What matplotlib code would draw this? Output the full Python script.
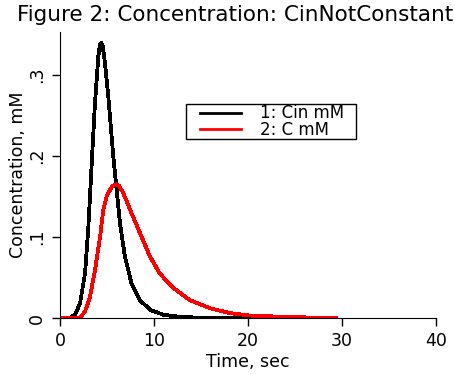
import numpy as np
import matplotlib
matplotlib.use("Agg")
import matplotlib.pyplot as plt
from matplotlib.lines import Line2D
from matplotlib.legend_handler import HandlerLine2D

# values
t_cin = [0, 1.0, 1.6, 2.13, 2.66, 3.0, 3.37, 3.72, 4.08, 4.25, 4.4, 4.55, 4.79, 5.14,
         5.67, 6.03, 6.38, 6.9, 7.6, 8.5, 9.6, 11.0, 13.0, 16.0, 20.0, 29.4]
cin = [0, 0, 0.004, 0.018, 0.055, 0.109, 0.19, 0.265, 0.323, 0.337, 0.340, 0.335,
       0.314, 0.273, 0.199, 0.158, 0.117, 0.076, 0.043, 0.022, 0.010, 0.004, 0.001,
       0.0003, 0, 0]

t_c = [0, 2.1, 2.66, 3.19, 3.72, 4.26, 4.6, 4.96, 5.5, 5.8, 6.03, 6.3, 6.74, 7.62,
       8.5, 9.57, 10.6, 12.06, 13.8, 15.96, 18.1, 20.2, 25.0, 29.4]
c = [0, 0, 0.008, 0.026, 0.059, 0.100, 0.133, 0.150, 0.162, 0.1645, 0.165, 0.163,
     0.154, 0.129, 0.105, 0.076, 0.055, 0.037, 0.022, 0.012, 0.006, 0.003, 0.001, 0]

xticks = [0, 10, 20, 30, 40]
yticks = [0, 0.1, 0.2, 0.3]
ytick_labels = ["0", ".1", ".2", ".3"]

fig = plt.figure(figsize=(4.55, 3.74), dpi=100)
ax = fig.add_axes([60 / 455, 1 - 318 / 374, 376 / 455, 286 / 374])

ax.plot(t_cin, cin, color="black", lw=2, label="1: Cin mM", antialiased=False)
ax.plot(t_c, c, color="red", lw=2, label="2: C mM", antialiased=False)

ax.set_xlim(0, 40)
ax.set_ylim(0, 0.353)
ax.spines["top"].set_visible(False)
ax.spines["right"].set_visible(False)
ax.set_xticks(xticks)
ax.set_yticks(yticks)
ax.set_yticklabels(ytick_labels, rotation=90, va="center")
ax.tick_params(direction="out", length=6, width=1, labelsize=12.5, pad=4)

ax.set_xlabel("Time, sec", fontsize=12.5, labelpad=2)
ax.set_ylabel("Concentration, mM", fontsize=12.5, labelpad=1)
fig.text(0.517, 1 - 15 / 374, "Figure 2: Concentration: CinNotConstant",
         fontsize=15.5, ha="center", va="center")

leg = ax.legend(loc="upper left", bbox_to_anchor=(0.335, 0.629, 0.452, 0.119),
                mode="expand", fontsize=12,
                frameon=True, fancybox=False, edgecolor="black", framealpha=1,
                handlelength=3.3, handletextpad=1.15, labelspacing=-0.1,
                borderpad=0.02, borderaxespad=0,
                handler_map={Line2D: HandlerLine2D(xpad=0.85)})
leg.get_frame().set_linewidth(1)

fig.savefig("out.png", dpi=100)
